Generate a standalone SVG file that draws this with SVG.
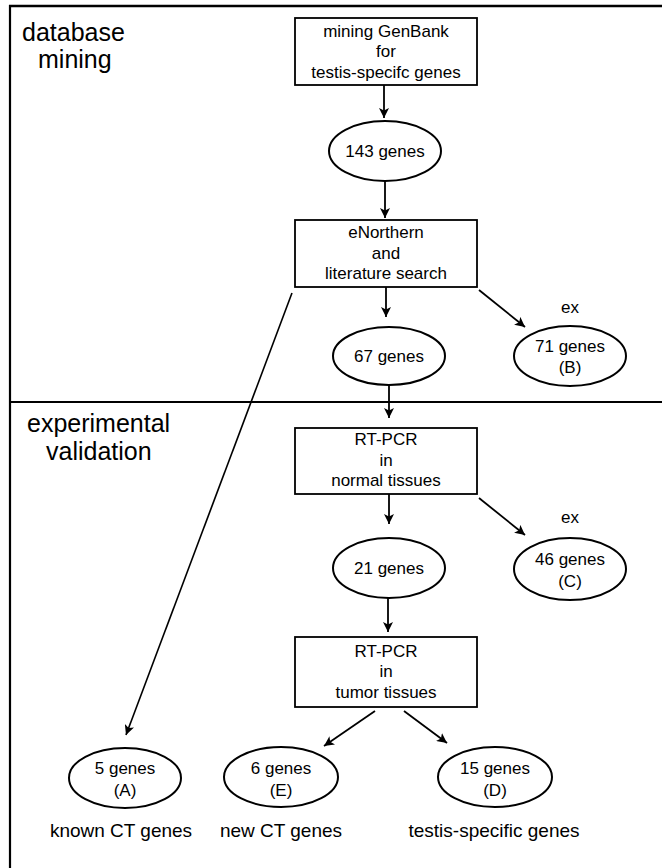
<svg xmlns="http://www.w3.org/2000/svg" width="662" height="868" viewBox="0 0 662 868">
<defs>
<style>
.box{fill:#fff;stroke:#000;stroke-width:1.8}
.ell{fill:#fff;stroke:#000;stroke-width:2}
text{font-family:"Liberation Sans",Arial,sans-serif;fill:#000}
.t{font-size:17px;text-anchor:middle}
.title{font-size:25px}
.lab{font-size:19px;text-anchor:middle}
.frame{stroke:#000;fill:none}
.c{stroke:#000;stroke-width:1.8;fill:none;marker-end:url(#ah)}
.cl{stroke:#000;stroke-width:1.6;fill:none;marker-end:url(#ah)}
</style>
<marker id="ah" viewBox="0 0 10 10" refX="10" refY="5" markerWidth="10" markerHeight="10" markerUnits="userSpaceOnUse" orient="auto">
<path d="M0,0 L10,5 L0,10 L2.5,5 z" fill="#000"/>
</marker>
</defs>
<rect width="662" height="868" fill="#fff"/>
<g id="frame">
<path class="frame" d="M9,6 H662" stroke-width="2.6"/>
<path class="frame" d="M10,5 V868" stroke-width="2.2"/>
<path class="frame" d="M10,402 H662" stroke-width="2"/>
<text class="title" x="22" y="41">database</text>
<text class="title" x="38" y="68">mining</text>
<text class="title" x="27" y="432">experimental</text>
<text class="title" x="46" y="460">validation</text>
</g>
<g id="connectors">
<path class="c" d="M384,85 L384,118"/>
<path class="c" d="M385,182 L385,218"/>
<path class="c" d="M386,287 L386,317"/>
<path class="c" d="M479,290 L525,327"/>
<path class="cl" d="M292,293 L126,735"/>
<path class="c" d="M389,385 L389,418"/>
<path class="c" d="M389,494 L389,524"/>
<path class="c" d="M479,498 L525,535"/>
<path class="c" d="M388,598 L388,632"/>
<path class="c" d="M375,711 L324,746"/>
<path class="c" d="M404,711 L447,743"/>
<text class="t" x="570" y="313">ex</text>
<text class="t" x="570" y="523">ex</text>
</g>
<g id="n_mining">
<rect class="box" x="295" y="18" width="182" height="67"/>
<text class="t" x="386" y="37">mining GenBank</text>
<text class="t" x="386" y="57">for</text>
<text class="t" x="386" y="78">testis-specifc genes</text>
</g>
<g id="n_143">
<ellipse class="ell" cx="385" cy="151" rx="56" ry="30"/>
<text class="t" x="385" y="157">143 genes</text>
</g>
<g id="n_enorthern">
<rect class="box" x="295" y="220" width="182" height="67"/>
<text class="t" x="386" y="238">eNorthern</text>
<text class="t" x="386" y="259">and</text>
<text class="t" x="386" y="279">literature search</text>
</g>
<g id="n_67">
<ellipse class="ell" cx="389" cy="356" rx="56" ry="29"/>
<text class="t" x="389" y="362">67 genes</text>
</g>
<g id="n_71">
<ellipse class="ell" cx="570" cy="356" rx="56" ry="30"/>
<text class="t" x="570" y="352">71 genes</text>
<text class="t" x="570" y="373">(B)</text>
</g>
<g id="n_rtpcr_normal">
<rect class="box" x="295" y="428" width="182" height="66"/>
<text class="t" x="386" y="445">RT-PCR</text>
<text class="t" x="386" y="466">in</text>
<text class="t" x="386" y="486">normal tissues</text>
</g>
<g id="n_21">
<ellipse class="ell" cx="389" cy="568" rx="56" ry="30"/>
<text class="t" x="389" y="574">21 genes</text>
</g>
<g id="n_46">
<ellipse class="ell" cx="570" cy="569" rx="56" ry="31"/>
<text class="t" x="570" y="565">46 genes</text>
<text class="t" x="570" y="587">(C)</text>
</g>
<g id="n_rtpcr_tumor">
<rect class="box" x="295" y="637" width="182" height="70"/>
<text class="t" x="386" y="657">RT-PCR</text>
<text class="t" x="386" y="677">in</text>
<text class="t" x="386" y="698">tumor tissues</text>
</g>
<g id="n_5">
<ellipse class="ell" cx="125" cy="778" rx="56" ry="30"/>
<text class="t" x="125" y="774">5 genes</text>
<text class="t" x="125" y="796">(A)</text>
<text class="lab" x="121" y="837">known CT genes</text>
</g>
<g id="n_6">
<ellipse class="ell" cx="281" cy="777" rx="57" ry="30"/>
<text class="t" x="281" y="774">6 genes</text>
<text class="t" x="281" y="796">(E)</text>
<text class="lab" x="281" y="837">new CT genes</text>
</g>
<g id="n_15">
<ellipse class="ell" cx="495" cy="777" rx="57" ry="30"/>
<text class="t" x="495" y="774">15 genes</text>
<text class="t" x="495" y="796">(D)</text>
<text class="lab" x="494" y="837">testis-specific genes</text>
</g>
</svg>
